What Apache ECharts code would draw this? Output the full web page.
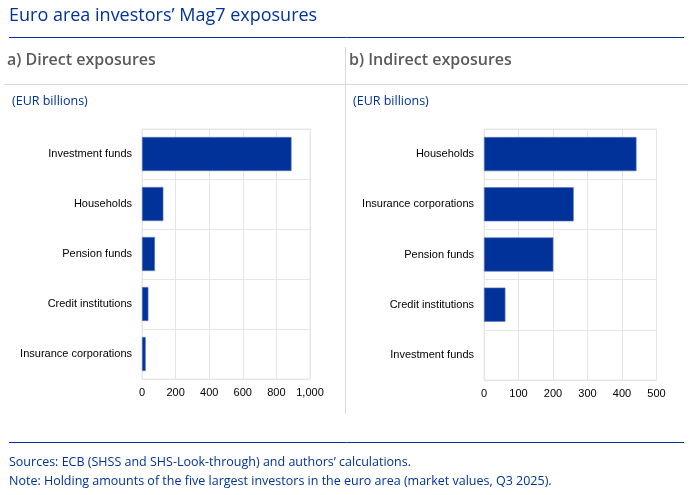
<!DOCTYPE html>
<html>
<head>
<meta charset="utf-8">
<script src="https://cdn.jsdelivr.net/npm/echarts@6/dist/echarts.min.js"></script>
<style>
  html, body { margin: 0; padding: 0; background: #fff; }
  #chart { width: 696px; height: 495px; }
</style>
</head>
<body>
<div id="chart"></div>
<script>
// Data
const directCats = ['Investment funds', 'Households', 'Pension funds', 'Credit institutions', 'Insurance corporations'];
const directVals = [890, 127, 77, 38, 22];
const indirectCats = ['Households', 'Insurance corporations', 'Pension funds', 'Credit institutions', 'Investment funds'];
const indirectVals = [442, 260, 201, 62, 0];

const navy = '#003299';
const gridGrey = '#e6e6e6';

function catAxis(idx, cats) {
    return {
        type: 'category', gridIndex: idx, data: cats, inverse: true,
        axisLine: { show: false }, axisTick: { show: false },
        axisLabel: { color: '#000', fontFamily: 'Liberation Sans', fontSize: 11, margin: 10 },
        splitLine: { show: true, lineStyle: { color: gridGrey } }
    };
}

function valAxis(idx, max, interval) {
    return {
        type: 'value', gridIndex: idx, min: 0, max: max, interval: interval,
        axisLine: { show: false }, axisTick: { show: false },
        axisLabel: {
            color: '#000', fontFamily: 'Liberation Sans', fontSize: 11, margin: 8,
            formatter: v => v.toLocaleString('en-US')
        },
        splitLine: { show: true, lineStyle: { color: gridGrey } }
    };
}

function barSeries(idx, vals) {
    return {
        type: 'bar', xAxisIndex: idx, yAxisIndex: idx,
        // zero values get no outline so nothing shows where there is no bar
        data: vals.map(v => v > 0 ? v : { value: v, itemStyle: { borderWidth: 0 } }),
        barCategoryGap: '32%',
        itemStyle: { color: navy, borderColor: '#5a76c0', borderWidth: 0.6 },
        silent: true
    };
}

const chart = echarts.init(document.getElementById('chart'));
chart.setOption({
    animation: false,
    grid: [
        { left: 142, top: 129, width: 168, height: 250, show: true, borderColor: gridGrey, backgroundColor: 'transparent' },
        { left: 484, top: 129, width: 172.5, height: 251, show: true, borderColor: gridGrey, backgroundColor: 'transparent' }
    ],
    xAxis: [valAxis(0, 1000, 200), valAxis(1, 500, 100)],
    yAxis: [catAxis(0, directCats), catAxis(1, indirectCats)],
    series: [barSeries(0, directVals), barSeries(1, indirectVals)],
    graphic: [
        { type: 'text', left: 9, top: 7, style: { text: 'Euro area investors\u2019 Mag7 exposures', fill: navy, font: '18px "Open Sans"' } },
        { type: 'line', shape: { x1: 9, y1: 37.5, x2: 684, y2: 37.5 }, style: { stroke: navy, lineWidth: 1 } },
        { type: 'text', left: 7, top: 52, style: { text: 'a) Direct exposures', fill: '#5a5a5a', font: '600 16px "Open Sans"' } },
        { type: 'text', left: 349, top: 52, style: { text: 'b) Indirect exposures', fill: '#5a5a5a', font: '600 16px "Open Sans"' } },
        { type: 'line', shape: { x1: 4, y1: 84.5, x2: 688, y2: 84.5 }, style: { stroke: '#d9d9d9', lineWidth: 1 } },
        { type: 'line', shape: { x1: 345.5, y1: 47, x2: 345.5, y2: 414 }, style: { stroke: '#d9d9d9', lineWidth: 1 } },
        { type: 'text', left: 12, top: 95, style: { text: '(EUR billions)', fill: navy, font: '12.5px "Open Sans"' } },
        { type: 'text', left: 353, top: 95, style: { text: '(EUR billions)', fill: navy, font: '12.5px "Open Sans"' } },
        { type: 'line', shape: { x1: 9, y1: 442.5, x2: 684, y2: 442.5 }, style: { stroke: navy, lineWidth: 1 } },
        { type: 'text', left: 9, top: 456, style: { text: 'Sources: ECB (SHSS and SHS-Look-through) and authors\u2019 calculations.', fill: navy, font: '12.5px "Open Sans"' } },
        { type: 'text', left: 9, top: 475, style: { text: 'Note: Holding amounts of the five largest investors in the euro area (market values, Q3 2025).', fill: navy, font: '12.5px "Open Sans"' } }
    ]
});
</script>
</body>
</html>
